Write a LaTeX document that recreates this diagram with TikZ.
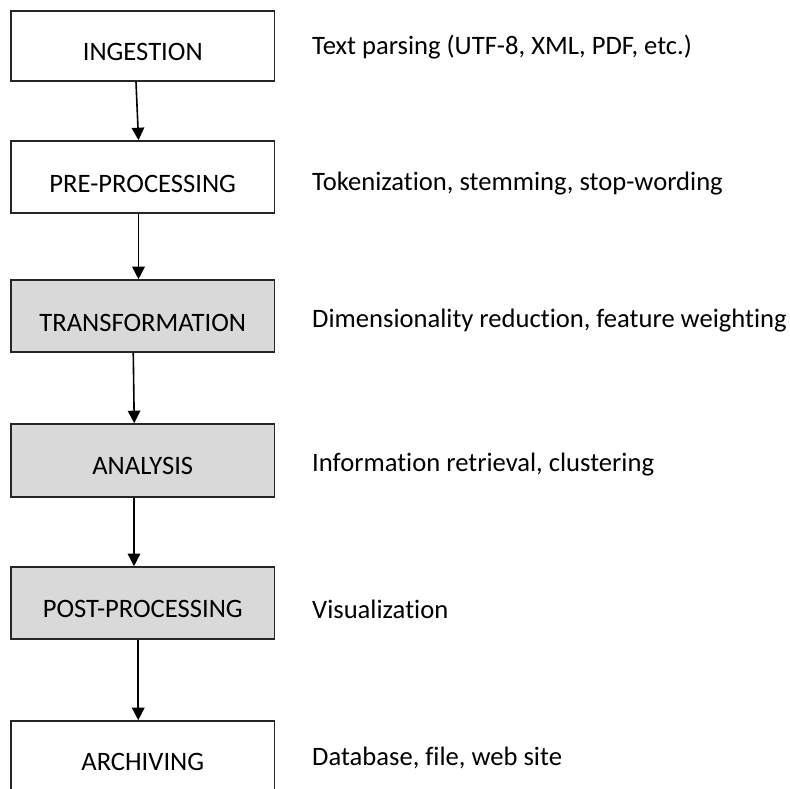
\documentclass[tikz,border=0pt]{standalone}
\usepackage{fontspec}
\setmainfont[Ligatures={NoCommon}]{Carlito}
\usetikzlibrary{arrows.meta}
\definecolor{boxgray}{HTML}{D9D9D9}
\definecolor{edge}{HTML}{262626}
\begin{document}
\begin{tikzpicture}[x=1pt,y=-1pt,
  stagebox/.style={draw=edge, line width=1.6pt, rectangle, inner sep=0pt,
    minimum width=263.5pt},
  shaded/.style={stagebox, fill=boxgray},
  stagetext/.style={anchor=base, inner sep=0pt, font=\fontsize{26.6}{31}\selectfont},
  notetext/.style={anchor=base west, inner sep=0pt, font=\fontsize{26.6}{31}\selectfont},
  flow/.style={draw=black, line width=1.6pt, -{Triangle[width=12.5pt,length=12.5pt]}}]
\useasboundingbox (0,0) rectangle (790,789);
\begin{scope}
\clip (0,0) rectangle (790,789);
% stage boxes
\node[stagebox, minimum height=70pt] (ing) at (142.75,46) {};
\node[stagebox, minimum height=72pt] (pre) at (142.75,177) {};
\node[shaded, minimum height=72pt] (tra) at (142.75,316) {};
\node[shaded, minimum height=73pt] (ana) at (142.75,460.5) {};
\node[shaded, minimum height=72pt] (pos) at (142.75,603) {};
\node[stagebox, minimum height=90pt] (arc) at (142.75,766) {};
\end{scope}
% stage names
\node[stagetext] (ingt) at (142.75,61) {INGESTION};
\node[stagetext] (pret) at (142.75,192.7) {PRE-PROCESSING};
\node[stagetext] (trat) at (142.75,331.7) {TRANSFORMATION};
\node[stagetext] (anat) at (142.75,474) {ANALYSIS};
\node[stagetext] (post) at (142.75,617.7) {POST-PROCESSING};
\node[stagetext] (arct) at (142.75,770.7) {ARCHIVING};
% descriptions
\node[notetext] (ingn) at (312,55) {Text parsing (UTF-8, XML, PDF, etc.)};
\node[notetext] (pren) at (312,190.7) {Tokenization, stemming, stop-wording};
\node[notetext] (tran) at (312,327.7) {Dimensionality reduction, feature weighting};
\node[notetext] (anan) at (312,471.7) {Information retrieval, clustering};
\node[notetext] (posn) at (312,618.3) {Visualization};
\node[notetext] (arcn) at (312,765) {Database, file, web site};
% flow arrows
\draw[flow] ([xshift=-6.75pt]ing.south) -- ([xshift=-4.25pt]pre.north);
\draw[flow] ([xshift=-4.25pt]pre.south) -- ([xshift=-4.25pt]tra.north);
\draw[flow] ([xshift=-9.5pt]tra.south) -- ([xshift=-8.5pt]ana.north);
\draw[flow] ([xshift=-8.75pt]ana.south) -- ([xshift=-8.75pt]pos.north);
\draw[flow] ([xshift=-4.5pt]pos.south) -- ([xshift=-4.5pt]arc.north);
\end{tikzpicture}
\end{document}
